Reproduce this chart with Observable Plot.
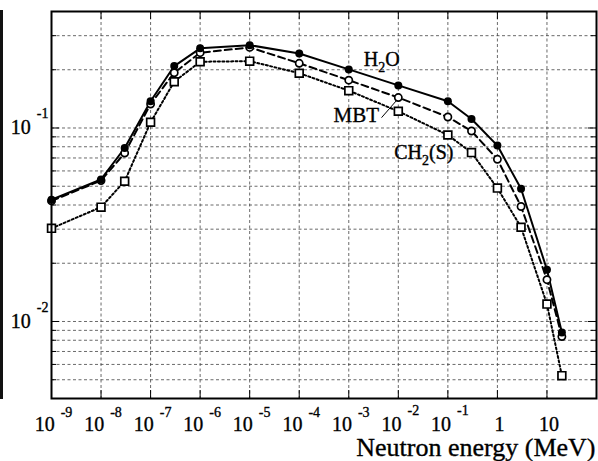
<!DOCTYPE html>
<html><head><meta charset="utf-8">
<script src="https://cdn.jsdelivr.net/npm/d3@7"></script>
<script src="https://cdn.jsdelivr.net/npm/@observablehq/plot@0.6"></script>
<style>
html,body{margin:0;padding:0;background:#fff;}
#wrap{position:relative;width:598px;height:461px;overflow:hidden;}
#edge{position:absolute;left:0;top:10px;width:3px;height:389px;background:#111;}
#wrap svg{display:block;}
</style></head><body><div id="wrap"><div id="edge"></div></div>
<script>
// Neutron energy (MeV)
const energy = [1e-9, 1e-8, 3e-8, 1e-7, 3e-7, 1e-6, 1e-5, 1e-4, 1e-3, 1e-2, 1e-1, 0.3, 1, 3, 10, 20];
const h2o  = [0.0426, 0.0542, 0.0788, 0.1375, 0.209, 0.258, 0.268, 0.2425, 0.2008, 0.166, 0.1374, 0.1113, 0.0811, 0.0485, 0.0185, 0.00877];
const mbt  = [0.0420, 0.0535, 0.0742, 0.1330, 0.193, 0.245, 0.261, 0.216, 0.1766, 0.1437, 0.114, 0.0965, 0.0689, 0.0393, 0.01644, 0.00836];
const ch2s = [0.0303, 0.0390, 0.0531, 0.1070, 0.1735, 0.220, 0.2215, 0.192, 0.1560, 0.122, 0.092, 0.0746, 0.0489, 0.0307, 0.0123, 0.00525];

const xTicks = [1e-9, 1e-8, 1e-7, 1e-6, 1e-5, 1e-4, 1e-3, 1e-2, 1e-1, 1, 10];
const xTickLabels = ["10^-9", "10^-8", "10^-7", "10^-6", "10^-5", "10^-4", "10^-3", "10^-2", "10^-1", "1", "10"];
const yTicks = [0.01, 0.1];
const yTickLabels = ["10^-2", "10^-1"];
const xDomain = [1e-9, 1e2];
const yDomain = [0.004, 0.4];

const seriesLabels = ["H_2O", "MBT", "CH_2(S)"];
const labelX = [4.64e-3, 1.42e-3, 0.0327];
const labelY = [0.2254, 0.1159, 0.0748];
const labelSize = [20, 21, 20];
const leaderX = [4.64e-3, 8.9e-3];
const leaderY = [0.1135, 0.1374];
const xTitle = "Neutron energy (MeV)";

const font = "'Liberation Serif', 'Times New Roman', serif";
const W = 598, H = 461, mL = 51, mR = 2, mT = 11, mB = 63;
const fw = W - mL - mR, fh = H - mT - mB;

const rows = (vals) => energy.map((e, i) => ({e, v: vals[i]}));
const ticksLog = (dom) => d3.scaleLog().domain(dom).ticks();
const allX = ticksLog(xDomain), allY = ticksLog(yDomain);
const isDecade = d => Math.abs(Math.log10(d) - Math.round(Math.log10(d))) < 1e-9;
const minorX = allX.filter(d => !isDecade(d));
const majorX = allX.filter(d => isDecade(d) && d > xDomain[0] && d < xDomain[1]);
const gridY = allY.filter(d => d > yDomain[0] * 1.001 && d < yDomain[1] * 0.999);
const majorY = gridY.filter(isDecade);
const minorY = gridY.filter(d => !isDecade(d));

const gridStyle = {stroke: "#444", strokeWidth: 0.8, strokeDasharray: "3,2.5"};
const tickStyle = {stroke: "black", strokeWidth: 1};
const textStyle = {fill: "black", stroke: "black", strokeWidth: 0.35};

const chart = Plot.plot({
  width: W, height: H,
  marginLeft: mL, marginRight: mR, marginTop: mT, marginBottom: mB,
  style: {fontFamily: font, background: "white", color: "black", overflow: "visible"},
  x: {type: "log", domain: xDomain, axis: null},
  y: {type: "log", domain: yDomain, axis: null},
  marks: [
    Plot.ruleX(majorX, gridStyle),
    Plot.ruleY(gridY, gridStyle),
    Plot.ruleX(minorX, {...tickStyle, insetTop: fh - 4}),
    Plot.ruleX(minorX, {...tickStyle, insetBottom: fh - 4}),
    Plot.ruleX(majorX, {...tickStyle, insetTop: fh - 8}),
    Plot.ruleX(majorX, {...tickStyle, insetBottom: fh - 8}),
    Plot.ruleY(minorY, {...tickStyle, insetRight: fw - 5}),
    Plot.ruleY(minorY, {...tickStyle, insetLeft: fw - 5}),
    Plot.ruleY(majorY, {...tickStyle, insetRight: fw - 8}),
    Plot.ruleY(majorY, {...tickStyle, insetLeft: fw - 8}),
    Plot.line(rows(ch2s), {x: "e", y: "v", stroke: "black", strokeWidth: 2, strokeDasharray: "2,2.4"}),
    Plot.line(rows(mbt), {x: "e", y: "v", stroke: "black", strokeWidth: 2, strokeDasharray: "7,4"}),
    Plot.line(rows(h2o), {x: "e", y: "v", stroke: "black", strokeWidth: 2}),
    Plot.line(leaderX.map((x, i) => ({x, y: leaderY[i]})), {x: "x", y: "y", stroke: "black", strokeWidth: 1}),
    Plot.dot(rows(ch2s), {x: "e", y: "v", symbol: "square", r: 4.4, fill: "white", stroke: "black", strokeWidth: 1.7}),
    Plot.dot(rows(mbt), {x: "e", y: "v", r: 3.6, fill: "white", stroke: "black", strokeWidth: 1.7}),
    Plot.dot(rows(h2o), {x: "e", y: "v", r: 4, fill: "black"}),
    Plot.frame({stroke: "black", strokeWidth: 2}),
    Plot.text(seriesLabels, {x: (d, i) => labelX[i], y: (d, i) => labelY[i], text: d => d,
      fontSize: (d, i) => labelSize[i], ...textStyle, textAnchor: "middle"}),
    Plot.text(xTicks, {x: d => d, text: (d, i) => xTickLabels[i], frameAnchor: "bottom", lineAnchor: "top",
      dy: 18, dx: 2, fontSize: 20, ...textStyle, textAnchor: "middle"}),
    Plot.text(yTicks, {y: d => d, text: (d, i) => yTickLabels[i], frameAnchor: "left", lineAnchor: "middle",
      dx: -3, fontSize: 20, ...textStyle, textAnchor: "end"}),
    Plot.text([xTitle], {text: d => d, frameAnchor: "bottom-right", lineAnchor: "bottom",
      dy: 57, dx: -1, fontSize: 26, ...textStyle, textAnchor: "end"})
  ]
});

// Superscripts (tick exponents) and subscripts (chemical formulas)
const svg = d3.select(chart);
svg.selectAll("text").each(function() {
  const t = this.textContent;
  const el = d3.select(this);
  let m = t.match(/^(.*)\^(.*)$/);
  if (m) {
    const isY = yTickLabels.includes(t);
    el.text(null);
    el.append("tspan").text(m[1]);
    el.append("tspan").attr("dx", 6).attr("dy", isY ? -16 : -14).attr("font-size", 14).text(m[2]);
    return;
  }
  m = t.match(/^(.*)_(\d)(.*)$/);
  if (m) {
    el.text(null);
    el.append("tspan").text(m[1]);
    el.append("tspan").attr("dy", 6).attr("font-size", 14).text(m[2]);
    el.append("tspan").attr("dy", -6).text(m[3]);
  }
});

document.getElementById("wrap").appendChild(chart);
</script>
</body></html>
